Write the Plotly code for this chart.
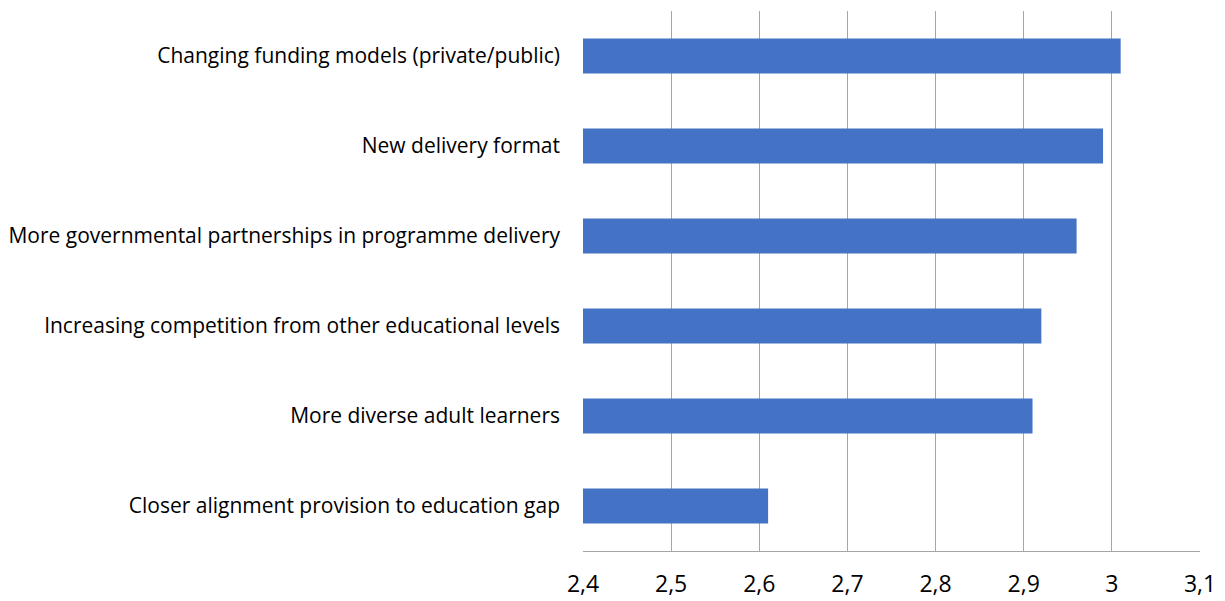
import plotly.graph_objects as go

# Mean rating per driver of change (bottom to top as drawn)
categories = [
    "Closer alignment provision to education gap",
    "More diverse adult learners",
    "Increasing competition from other educational levels",
    "More governmental partnerships in programme delivery",
    "New delivery format",
    "Changing funding models (private/public)",
]
values = [2.61, 2.91, 2.92, 2.96, 2.99, 3.01]

tick_vals = [2.4, 2.5, 2.6, 2.7, 2.8, 2.9, 3.0, 3.1]
tick_text = ["2,4", "2,5", "2,6", "2,7", "2,8", "2,9", "3", "3,1"]

axis_min = 2.4
font_family = "'Open Sans', Lato, sans-serif"
grid_color = "#a6a6a6"

# bars start at the 2,4 baseline, so draw lengths relative to it
fig = go.Figure(
    go.Bar(
        x=[v - axis_min for v in values],
        y=categories,
        orientation="h",
        base=axis_min,
        marker=dict(color="#4472c4", line=dict(width=0)),
        width=0.39,
        customdata=values,
        hovertemplate="%{y}: %{customdata}<extra></extra>",
    )
)

fig.update_layout(
    width=1225,
    height=601,
    margin=dict(l=583, r=25, t=11, b=50),
    paper_bgcolor="white",
    plot_bgcolor="white",
    showlegend=False,
    font=dict(family=font_family, size=20, color="#000000"),
)

fig.update_xaxes(
    range=[2.4, 3.1],
    tickvals=tick_vals,
    ticktext=tick_text,
    showgrid=True,
    gridcolor=grid_color,
    gridwidth=1,
    zeroline=False,
    showline=True,
    linecolor=grid_color,
    linewidth=1,
    ticks="",
    ticklabelstandoff=12,
    tickfont=dict(size=23),
    automargin=False,
    fixedrange=True,
)

fig.update_yaxes(
    categoryorder="array",
    categoryarray=categories,
    range=[-0.5, 5.5],
    showgrid=False,
    zeroline=False,
    showline=False,
    ticks="",
    ticklabelstandoff=22,
    tickfont=dict(size=21),
    automargin=False,
    fixedrange=True,
)

fig.write_html("out.html")
